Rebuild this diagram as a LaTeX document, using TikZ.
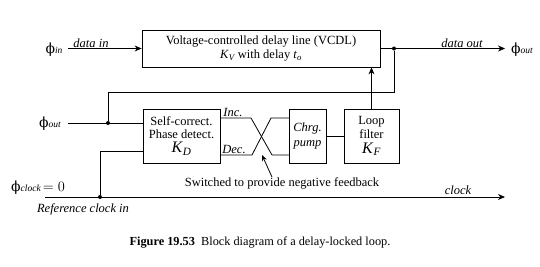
\documentclass[tikz,border=0pt]{standalone}
\usepackage{fontspec}
\setmainfont{Liberation Serif}
\newfontfamily\phfont{DejaVu Serif}
\usetikzlibrary{arrows.meta}
\newcommand{\phisym}[1]{{\fontsize{14}{14}\selectfont\phfont ϕ}{\fontsize{9.5}{10}\selectfont\itshape #1}}
\newcommand{\kvar}[2]{\textit{K}\textsubscript{\itshape #2}}
\begin{document}
\begin{tikzpicture}[x=1pt,y=-1pt,font=\fontsize{12.5}{14}\selectfont,
  blk/.style={draw,line width=0.8pt,inner sep=0pt,align=center},
  wire/.style={line width=0.8pt},
  arr/.style={wire,-{Stealth[length=7pt,width=6pt]}},
  dot/.style={circle,fill,inner sep=0pt,minimum size=4pt},
  lbl/.style={inner sep=0pt},
  ilbl/.style={inner sep=0pt,font=\fontsize{12.5}{14}\selectfont\itshape}]
\useasboundingbox (0,0) rectangle (540,266);
% blocks
\node[blk,minimum width=238pt,minimum height=37pt] (vcdl) at (261,48.5)
  {Voltage-controlled delay line (VCDL)\\[0.5pt]\kvar{K}{V} with delay \textit{t}\textsubscript{\itshape o}};
\node[blk,minimum width=77pt,minimum height=54pt,font=\fontsize{12.5}{13}\selectfont] (pd) at (181.5,136)
  {Self-correct.\\Phase detect.\\[1pt]{\fontsize{16}{16}\selectfont\kvar{K}{D}}};
\node[blk,minimum width=37pt,minimum height=54pt,font=\fontsize{12.5}{15}\selectfont\itshape] (cp) at (307.5,136)
  {Chrg.\\pump};
\node[blk,minimum width=55pt,minimum height=54pt,font=\fontsize{12.5}{14.5}\selectfont] (lf) at (371.5,136)
  {Loop\\filter\\[0pt]{\fontsize{16}{16}\selectfont\kvar{K}{F}}};
% coordinates
\coordinate (inL) at (68,48.5);
\coordinate (outR) at (505,48.5);
\node[dot] (d1) at (394,48.5) {};
\coordinate (fbc) at (394,92);
\node[dot] (d2) at (108,123) {};
\coordinate (phoL) at (68,123);
\coordinate (pdin) at (143,123);
\coordinate (clkL) at (45,197);
\coordinate (clkR) at (505,197);
\node[dot] (d3) at (100,197) {};
\coordinate (pdclk) at (143,151);
\coordinate (incA) at (220,118);
\coordinate (incB) at (251,118);
\coordinate (incC) at (272,155);
\coordinate (cpdec) at (289,155);
\coordinate (decA) at (220,155);
\coordinate (decB) at (252,155);
\coordinate (decC) at (271,118);
\coordinate (cpinc) at (289,118);
\coordinate (swtip) at (262,155);
% wires
\draw[arr] (inL) -- (vcdl.west);
\draw[arr] (vcdl.east) -- (outR);
\draw[wire] (d1) -- (fbc) -| (d2);
\draw[wire] (phoL) -- (pdin);
\draw[arr] (clkL) -- (clkR);
\draw[wire] (d3) |- (pdclk);
\draw[wire] (incA) -- (incB) -- (incC) -- (cpdec);
\draw[wire] (decA) -- (decB) -- (decC) -- (cpinc);
\draw[wire] (cp) -- (lf);
\draw[arr] (lf.north) -- (lf.north |- vcdl.south);
% labels
\node[lbl] (phin) at (54,50) {\phisym{in}};
\node[ilbl] (datain) at (91,43) {data in};
\node[ilbl] (dataout) at (462,43) {data out};
\node[lbl] (phoutR) at (522,50) {\phisym{out}};
\node[lbl] (phoutL) at (50,124) {\phisym{out}};
\node[lbl] (phclk) at (38,188) {\phisym{clock}\,{\fontsize{14}{14}\selectfont$=0$}};
\node[ilbl] (refclk) at (83,209) {Reference clock in};
\node[ilbl] (clk) at (458,190) {clock};
\node[ilbl] (inc) at (233,112) {Inc.};
\node[ilbl] (dec) at (234,149) {Dec.};
\node[lbl] (sw) at (282,183) {Switched to provide negative feedback};
\draw[wire,-{Stealth[length=6pt,width=5pt]}] (sw.north -| 272,0) -- (swtip);
\node[lbl,font=\fontsize{12.3}{14}\selectfont] (cap) at (260,243) {\textbf{Figure 19.53}\enspace Block diagram of a delay-locked loop.};
\end{tikzpicture}
\end{document}
